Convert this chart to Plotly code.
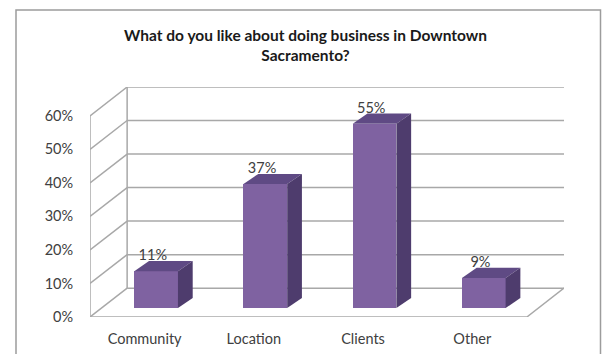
import plotly.graph_objects as go

# Survey results
categories = ["Community", "Location", "Clients", "Other"]
shares = [11, 37, 55, 9]          # percent of respondents
tick_values = [0, 10, 20, 30, 40, 50, 60]
tick_labels = ["0%", "10%", "20%", "30%", "40%", "50%", "60%"]
title_text = "What do you like about doing business in Downtown<br>Sacramento?"

# Oblique projection of the box: depth of the back wall in axis units
WALL_DX, WALL_DY = 0.34, 8.6
# Bars stand part-way into the box
BAR_POS = 0.31
BAR_OX, BAR_OY = WALL_DX * BAR_POS, WALL_DY * BAR_POS
BAR_W = 0.40
BAR_DX, BAR_DY = 0.135, 3.0

FRONT = "#7F62A1"
TOP = "#5F4A84"
SIDE = "#4E3C6D"
GRID = "#A8A8A8"
TEXT = "#404040"
FONT = "Lato, sans-serif"

n = len(categories)
x_lo, x_hi = -0.5, n - 0.5
y_top = tick_values[-1]

fig = go.Figure()

# Walls and gridlines, kept beneath the bars
segments = []
for v in tick_values:
    segments.append((x_lo + WALL_DX, v + WALL_DY, x_hi + WALL_DX, v + WALL_DY))  # back wall
    segments.append((x_lo, v, x_lo + WALL_DX, v + WALL_DY))                      # side wall
segments.append((x_lo, 0, x_lo, y_top))
segments.append((x_lo + WALL_DX, WALL_DY, x_lo + WALL_DX, y_top + WALL_DY))
segments.append((x_lo, 0, x_hi, 0))
segments.append((x_hi, 0, x_hi + WALL_DX, WALL_DY))
for x0, y0, x1, y1 in segments:
    fig.add_shape(type="line", xref="x", yref="y", x0=x0, y0=y0, x1=x1, y1=y1,
                  line=dict(color=GRID, width=1.5), layer="below")

# Bars: front face as bars, top and side faces as polygons
xs = [i + BAR_OX for i in range(n)]
fig.add_trace(go.Bar(x=xs, y=shares, base=[BAR_OY] * n, width=BAR_W,
                     marker=dict(color=FRONT, line=dict(width=0)),
                     hovertext=categories, showlegend=False))

for i, v in enumerate(shares):
    x0 = xs[i] - BAR_W / 2
    x1 = xs[i] + BAR_W / 2
    b = BAR_OY
    t = BAR_OY + v
    fig.add_trace(go.Scatter(
        x=[x0, x1, x1 + BAR_DX, x0 + BAR_DX, x0],
        y=[t, t, t + BAR_DY, t + BAR_DY, t],
        fill="toself", fillcolor=TOP, mode="lines",
        line=dict(width=0, color=TOP), hoverinfo="skip", showlegend=False))
    fig.add_trace(go.Scatter(
        x=[x1, x1 + BAR_DX, x1 + BAR_DX, x1, x1],
        y=[b, b + BAR_DY, t + BAR_DY, t, b],
        fill="toself", fillcolor=SIDE, mode="lines",
        line=dict(width=0, color=SIDE), hoverinfo="skip", showlegend=False))

# Value labels
fig.add_trace(go.Scatter(
    x=[x - 0.03 for x in xs], y=[BAR_OY + v + 4.4 for v in shares],
    mode="text", text=[f"{v}%" for v in shares],
    textfont=dict(family=FONT, size=14.5, color=TEXT),
    textposition="middle center", hoverinfo="skip", showlegend=False))

fig.update_layout(
    width=605, height=354,
    margin=dict(l=90, r=41, t=87, b=37, autoexpand=False),
    paper_bgcolor="white", plot_bgcolor="rgba(0,0,0,0)",
    bargap=0,
    title=dict(text=title_text, x=0.505, xanchor="center", y=0.885, yanchor="top",
               font=dict(family=FONT, size=15.5, color="#1a1a1a", weight="bold")),
    xaxis=dict(range=[x_lo, x_hi + WALL_DX], showgrid=False, zeroline=False,
               showline=False, tickmode="array", tickvals=list(range(n)),
               ticktext=categories, ticks="outside", ticklen=9,
               tickcolor="rgba(0,0,0,0)", automargin=False,
               tickfont=dict(family=FONT, size=14.5, color=TEXT),
               fixedrange=True),
    yaxis=dict(range=[0, y_top + WALL_DY], showgrid=False, zeroline=False,
               showline=False, tickmode="array", tickvals=tick_values,
               ticktext=tick_labels, ticks="outside", ticklen=13,
               tickcolor="rgba(0,0,0,0)", automargin=False,
               tickfont=dict(family=FONT, size=14.5, color=TEXT),
               fixedrange=True),
)

# Chart frame
fig.add_shape(type="rect", xref="paper", yref="paper",
              x0=-74 / 474, x1=(600.5 - 90) / 474,
              y0=-0.2, y1=(354 - 10 - 37) / 230,
              line=dict(color="#9C9C9C", width=1.5), layer="below")

fig.write_html("out.html")
